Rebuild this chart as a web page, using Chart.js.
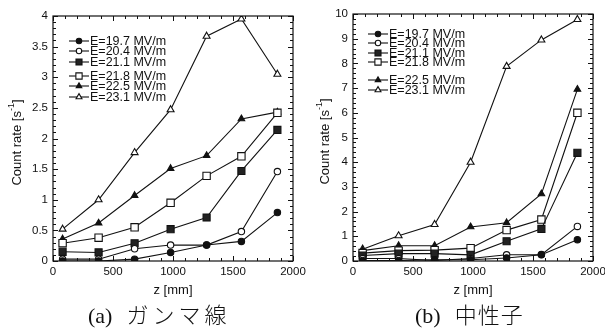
<!DOCTYPE html>
<html>
<head>
<meta charset="utf-8">
<script src="https://cdn.jsdelivr.net/npm/chart.js@4.4.1/dist/chart.umd.min.js"></script>
<style>
  body { margin: 0; background: #fff; width: 605px; height: 335px; overflow: hidden; position: relative; }
  .plot { position: absolute; top: 0; }
  #plot-a { left: 0; width: 320px; height: 300px; }
  #plot-b { left: 300px; width: 310px; height: 300px; }
  .caption { position: absolute; top: 297px; font-family: "Liberation Serif", "Noto Sans CJK JP", serif; font-size: 22px; color: #111; white-space: nowrap; }
  #cap-a { left: 88px; }
  #cap-b { left: 415px; }
  .jp { font-family: "Noto Sans CJK JP", sans-serif; font-weight: 300; margin-left: 14px; }
</style>
</head>
<body>
<div class="plot" id="plot-a"><canvas id="gamma-graph"></canvas></div>
<div class="plot" id="plot-b"><canvas id="neutron-graph"></canvas></div>
<div class="caption" id="cap-a">(a)<span class="jp" style="letter-spacing:4px">ガンマ線</span></div>
<div class="caption" id="cap-b">(b)<span class="jp" style="letter-spacing:1px">中性子</span></div>

<script>
// positions along the beam line [mm]
let zPos = [80, 380, 680, 980, 1280, 1570, 1870];

let fieldLabels = [
    'E=19.7 MV/m',
    'E=20.4 MV/m',
    'E=21.1 MV/m',
    'E=21.8 MV/m',
    'E=22.5 MV/m',
    'E=23.1 MV/m'
];

// (a) gamma count rate [1/s]
let gamma197 = [0.00, 0.00, 0.03, 0.14, 0.26, 0.32, 0.79];
let gamma204 = [0.03, 0.03, 0.20, 0.26, 0.26, 0.48, 1.46];
let gamma211 = [0.15, 0.14, 0.29, 0.52, 0.71, 1.47, 2.14];
let gamma218 = [0.29, 0.38, 0.55, 0.95, 1.39, 1.71, 2.42];
let gamma225 = [0.36, 0.62, 1.07, 1.51, 1.72, 2.32, 2.43];
let gamma231 = [0.52, 1.00, 1.77, 2.47, 3.67, 3.95, 3.05];

// (b) neutron count rate [1/s]
let neutron197 = [0.02, 0.02, 0.05, 0.05, 0.12, 0.25, 0.86];
let neutron204 = [0.10, 0.10, 0.02, 0.10, 0.25, 0.26, 1.40];
let neutron211 = [0.22, 0.30, 0.30, 0.25, 0.80, 1.30, 4.38];
let neutron218 = [0.32, 0.42, 0.44, 0.52, 1.25, 1.68, 6.00];
let neutron225 = [0.42, 0.62, 0.62, 1.38, 1.55, 2.72, 6.95];
let neutron231 = [0.48, 1.02, 1.48, 4.00, 7.88, 8.95, 9.78];

let xTicks = [0, 500, 1000, 1500, 2000];
let gammaTicks = [0, 0.5, 1, 1.5, 2, 2.5, 3, 3.5, 4];
let neutronTicks = [0, 1, 2, 3, 4, 5, 6, 7, 8, 9, 10];

// marker look for each field level
let markers = [
    { style: 'circle', fill: '#111', r: 3.2 },
    { style: 'circle', fill: '#fff', r: 3.2 },
    { style: 'rect', fill: '#222', r: 5 },
    { style: 'rect', fill: '#fff', r: 5.2 },
    { style: 'triangle', fill: '#111', r: 3.8 },
    { style: 'triangle', fill: '#fff', r: 4 }
];

function makeDatasets(series) {
    return series.map(function (vals, i) {
        return {
            label: fieldLabels[i],
            data: zPos.map(function (z, k) { return { x: z, y: vals[k] }; }),
            borderColor: '#111',
            borderWidth: 1.1,
            pointStyle: markers[i].style,
            pointRadius: markers[i].r,
            pointBackgroundColor: markers[i].fill,
            pointBorderColor: '#111',
            pointBorderWidth: 1.1,
            tension: 0
        };
    });
}

// frame, inward ticks, y title with superscript, legend inside the plot
let framePlugin = {
    id: 'frame',
    afterDraw: function (chart, args, opts) {
        let c = chart.ctx;
        let a = chart.chartArea;
        let xs = chart.scales.x;
        let ys = chart.scales.y;
        c.save();
        c.strokeStyle = '#111';
        c.lineWidth = 1.2;
        c.strokeRect(a.left, a.top, a.right - a.left, a.bottom - a.top);
        c.lineWidth = 1;
        c.beginPath();
        for (let v = xs.min; v <= xs.max + 1e-9; v += opts.xMinor) {
            let px = Math.round(xs.getPixelForValue(v)) + 0.5;
            let len = Math.abs(v % 500) < 1e-6 ? 5 : 3;
            c.moveTo(px, a.bottom); c.lineTo(px, a.bottom - len);
            c.moveTo(px, a.top); c.lineTo(px, a.top + len);
        }
        let steps = Math.round((ys.max - ys.min) / opts.yMinor);
        for (let s = 0; s <= steps; s++) {
            let v = ys.min + s * opts.yMinor;
            let py = Math.round(ys.getPixelForValue(v)) + 0.5;
            let major = Math.abs(v / opts.yMajor - Math.round(v / opts.yMajor)) < 1e-6;
            let len = major ? 5 : 3;
            c.moveTo(a.left, py); c.lineTo(a.left + len, py);
            c.moveTo(a.right, py); c.lineTo(a.right - len, py);
        }
        c.stroke();

        // y axis title
        c.fillStyle = '#111';
        c.translate(opts.titleX, (a.top + a.bottom) / 2 + 4);
        c.rotate(-Math.PI / 2);
        let main = 'Count rate [s';
        c.font = '13px "Liberation Sans", Arial, sans-serif';
        let w1 = c.measureText(main).width;
        c.font = '9px "Liberation Sans", Arial, sans-serif';
        let w2 = c.measureText('-1').width;
        c.font = '13px "Liberation Sans", Arial, sans-serif';
        let w3 = c.measureText(']').width;
        let x0 = -(w1 + w2 + w3) / 2;
        c.textBaseline = 'middle';
        c.fillText(main, x0, 0);
        c.font = '9px "Liberation Sans", Arial, sans-serif';
        c.fillText('-1', x0 + w1, -5);
        c.font = '13px "Liberation Sans", Arial, sans-serif';
        c.fillText(']', x0 + w1 + w2, 0);
        c.restore();

        // legend
        c.save();
        c.font = '12.5px "Liberation Sans", Arial, sans-serif';
        c.textBaseline = 'middle';
        chart.data.datasets.forEach(function (ds, i) {
            let y = a.top + opts.legendRows[i];
            let lx = a.left + opts.legendX;
            c.strokeStyle = '#111';
            c.lineWidth = 1.1;
            c.beginPath();
            c.moveTo(lx, y); c.lineTo(lx + 20, y);
            c.stroke();
            c.fillStyle = ds.pointBackgroundColor;
            Chart.helpers.drawPoint(c, {
                pointStyle: ds.pointStyle,
                radius: ds.pointRadius * 0.85,
                borderWidth: 1.1,
                rotation: 0
            }, lx + 10, y);
            c.fillStyle = '#111';
            c.fillText(ds.label, lx + 21, y + 0.5);
        });
        c.restore();
    }
};

function plainLabel(v) { return String(v); }

function makeChart(canvasId, series, yMax, yTicks, opts) {
    let ctx = document.querySelector(canvasId).getContext('2d');
    return new Chart(ctx, {
        type: 'line',
        data: { datasets: makeDatasets(series) },
        options: {
            responsive: true,
            maintainAspectRatio: false,
            animation: false,
            layout: { padding: { top: opts.top, right: opts.right, left: 0, bottom: 0 } },
            plugins: {
                legend: { display: false },
                tooltip: { enabled: false },
                frame: opts
            },
            scales: {
                x: {
                    type: 'linear',
                    min: 0,
                    max: 2000,
                    afterBuildTicks: function (s) { s.ticks = xTicks.map(function (v) { return { value: v }; }); },
                    grid: { display: false, drawTicks: false },
                    border: { display: false },
                    ticks: { color: '#111', padding: 4, callback: plainLabel, font: { family: '"Liberation Sans", Arial, sans-serif', size: 11.5 } },
                    title: {
                        display: true,
                        text: 'z [mm]',
                        color: '#111',
                        padding: { top: 4, bottom: 2 },
                        font: { family: '"Liberation Sans", Arial, sans-serif', size: 13 }
                    },
                    afterFit: function (s) { s.height = 39; }
                },
                y: {
                    min: 0,
                    max: yMax,
                    afterBuildTicks: function (s) { s.ticks = yTicks.map(function (v) { return { value: v }; }); },
                    grid: { display: false, drawTicks: false },
                    border: { display: false },
                    ticks: { color: '#111', padding: 5, callback: plainLabel, font: { family: '"Liberation Sans", Arial, sans-serif', size: 11.5 } },
                    afterFit: function (s) { s.width = 53; }
                }
            }
        },
        plugins: [framePlugin]
    });
}

function pageLoaded() {
    makeChart('#gamma-graph',
        [gamma197, gamma204, gamma211, gamma218, gamma225, gamma231],
        4, gammaTicks,
        { top: 16, right: 27, xMinor: 100, yMinor: 0.1, yMajor: 0.5, titleX: 17,
          legendX: 16, legendRows: [25, 35, 46, 60, 70, 81] });
    makeChart('#neutron-graph',
        [neutron197, neutron204, neutron211, neutron218, neutron225, neutron231],
        10, neutronTicks,
        { top: 14, right: 17, xMinor: 100, yMinor: 0.2, yMajor: 1, titleX: 25,
          legendX: 15, legendRows: [20, 29, 39, 48, 66, 76] });
}

window.addEventListener('load', pageLoaded);
</script>
</body>
</html>
